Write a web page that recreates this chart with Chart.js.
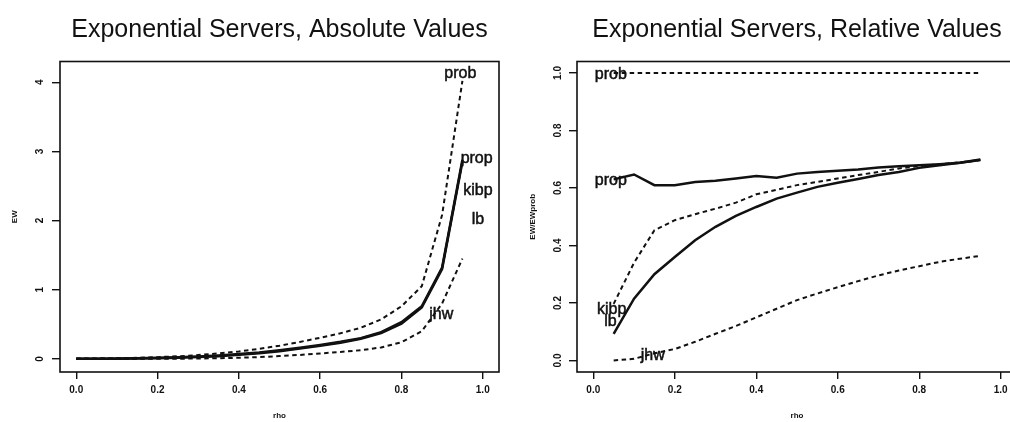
<!DOCTYPE html>
<html>
<head>
<meta charset="utf-8">
<script src="https://cdn.jsdelivr.net/npm/chart.js@4.4.1/dist/chart.umd.min.js"></script>
<style>
  html, body { margin: 0; padding: 0; background: #fff; overflow: hidden; }
  body { width: 1010px; height: 422px; position: relative; }
  canvas { position: absolute; top: 0; }
  #graficoAbsoluto { left: 0; }
  #graficoRelativo { left: 505px; }
</style>
</head>
<body>
<canvas id="graficoAbsoluto" width="505" height="422"></canvas>
<canvas id="graficoRelativo" width="530" height="422"></canvas>
<script>
// rho grid of the absolute plot (starts at 0)
const rhoAbs = [0, 0.05, 0.1, 0.15, 0.2, 0.25, 0.3, 0.35, 0.4, 0.45, 0.5, 0.55, 0.6, 0.65, 0.7, 0.75, 0.8, 0.85, 0.9, 0.95];
const probAbs = [0, 0.003, 0.008, 0.015, 0.025, 0.037, 0.055, 0.078, 0.108, 0.145, 0.19, 0.245, 0.305, 0.37, 0.45, 0.57, 0.76, 1.05, 2.08, 4.02];
const propAbs = [0, 0.002, 0.005, 0.009, 0.015, 0.023, 0.034, 0.049, 0.069, 0.092, 0.124, 0.16, 0.2, 0.246, 0.3, 0.385, 0.53, 0.76, 1.32, 2.88];
const kibpAbs = [0, 0.0006, 0.003, 0.007, 0.012, 0.019, 0.029, 0.043, 0.062, 0.086, 0.116, 0.152, 0.193, 0.239, 0.295, 0.381, 0.514, 0.75, 1.31, 2.86];
const lbAbs = [0, 0.0003, 0.0017, 0.0045, 0.009, 0.0155, 0.0256, 0.039, 0.058, 0.082, 0.111, 0.148, 0.188, 0.233, 0.29, 0.374, 0.51, 0.745, 1.3, 2.85];
const jhwAbs = [0, 0, 0.0001, 0.0004, 0.001, 0.0024, 0.005, 0.0094, 0.016, 0.026, 0.04, 0.057, 0.078, 0.1, 0.125, 0.165, 0.24, 0.4, 0.8, 1.45];

// rho grid of the relative plot (ratio undefined at 0)
const rhoRel = [0.05, 0.1, 0.15, 0.2, 0.25, 0.3, 0.35, 0.4, 0.45, 0.5, 0.55, 0.6, 0.65, 0.7, 0.75, 0.8, 0.85, 0.9, 0.95];
const probRel = [1, 1, 1, 1, 1, 1, 1, 1, 1, 1, 1, 1, 1, 1, 1, 1, 1, 1, 1];
const propRel = [0.63, 0.647, 0.61, 0.61, 0.621, 0.625, 0.633, 0.642, 0.636, 0.65, 0.656, 0.66, 0.664, 0.671, 0.676, 0.679, 0.683, 0.688, 0.699];
const kibpRel = [0.197, 0.34, 0.453, 0.488, 0.509, 0.528, 0.549, 0.578, 0.594, 0.61, 0.621, 0.633, 0.645, 0.656, 0.668, 0.676, 0.683, 0.689, 0.697];
const lbRel = [0.093, 0.215, 0.3, 0.36, 0.418, 0.465, 0.503, 0.534, 0.563, 0.584, 0.604, 0.618, 0.631, 0.645, 0.656, 0.67, 0.679, 0.688, 0.697];
const jhwRel = [0, 0.006, 0.025, 0.04, 0.065, 0.093, 0.12, 0.15, 0.18, 0.21, 0.233, 0.255, 0.276, 0.296, 0.313, 0.328, 0.343, 0.354, 0.364];

// axis ticks
const rhoTicks = [0, 0.2, 0.4, 0.6, 0.8, 1.0];
const ewTicks = [0, 1, 2, 3, 4];
const ratioTicks = [0, 0.2, 0.4, 0.6, 0.8, 1.0];

// curve names written next to the lines
const etiquetasAbs = [
  { text: "prob", x: 0.945, y: 4.12 },
  { text: "prop", x: 0.985, y: 2.9 },
  { text: "kibp", x: 0.988, y: 2.44 },
  { text: "lb", x: 0.988, y: 2.01 },
  { text: "jhw", x: 0.898, y: 0.64 }
];
const etiquetasRel = [
  { text: "prob", x: 0.043, y: 0.995 },
  { text: "prop", x: 0.043, y: 0.627 },
  { text: "kibp", x: 0.045, y: 0.177 },
  { text: "lb", x: 0.042, y: 0.136 },
  { text: "jhw", x: 0.146, y: 0.017 }
];

const INK = "#111";
Chart.defaults.font.family = "'Liberation Sans', Arial, Helvetica, sans-serif";
Chart.defaults.color = INK;

const zip = (xs, ys) => xs.map((x, i) => ({ x, y: ys[i] }));

const solida = (xs, ys) => ({
  data: zip(xs, ys), borderColor: INK, borderWidth: 2.5,
  pointRadius: 0, tension: 0, fill: false
});
const punteada = (xs, ys) => ({
  data: zip(xs, ys), borderColor: INK, borderWidth: 2,
  borderDash: [4.5, 3.5], pointRadius: 0, tension: 0, fill: false
});

// frame around the plot region plus the curve names
const marcoYEtiquetas = {
  id: "marcoYEtiquetas",
  afterDatasetsDraw(chart, args, opts) {
    const { ctx, chartArea: a, scales: { x, y } } = chart;
    ctx.save();
    ctx.strokeStyle = INK;
    ctx.lineWidth = 1.6;
    ctx.strokeRect(a.left, a.top, a.right - a.left, a.bottom - a.top);
    ctx.fillStyle = INK;
    ctx.lineWidth = 0.5;
    ctx.font = "16px 'Liberation Sans', Arial, sans-serif";
    ctx.textAlign = "center";
    ctx.textBaseline = "middle";
    (opts.labels || []).forEach(l => {
      const px = x.getPixelForValue(l.x), py = y.getPixelForValue(l.y);
      ctx.fillText(l.text, px, py);
      ctx.strokeText(l.text, px, py); // a little heavier, like the printed labels
    });
    ctx.restore();
  }
};

function ejeX(size) {
  return {
    type: "linear", min: -0.04, max: 1.04,
    afterBuildTicks: s => { s.ticks = rhoTicks.map(v => ({ value: v })); },
    afterFit: s => { s.height = size; },
    border: { display: false },
    grid: { drawOnChartArea: false, drawTicks: true, tickLength: 7, color: INK, lineWidth: 1.4 },
    ticks: { autoSkip: false, padding: 5, font: { size: 10, weight: "bold" }, callback: v => v.toFixed(1) },
    title: { display: true, text: "rho", font: { size: 8, weight: "bold" }, padding: { top: 0, bottom: 1 } }
  };
}

function ejeY(min, max, tickVals, fmt, width, titulo, titlePad, labelPad) {
  return {
    type: "linear", min, max,
    afterBuildTicks: s => { s.ticks = tickVals.map(v => ({ value: v })); },
    afterFit: s => { s.width = width; },
    border: { display: false },
    grid: { drawOnChartArea: false, drawTicks: true, tickLength: 8, color: INK, lineWidth: 1.4 },
    ticks: {
      autoSkip: false, minRotation: 90, maxRotation: 90, crossAlign: "center",
      padding: labelPad, font: { size: 10, weight: "bold" }, callback: fmt
    },
    title: { display: true, text: titulo, font: { size: 8, weight: "bold" }, padding: { top: titlePad, bottom: 0 } }
  };
}

function titulo(text) {
  return {
    display: true, text, fullSize: false, color: INK,
    font: { size: 25, weight: "normal" },
    padding: { top: 15, bottom: 16.5 }
  };
}

// left: absolute waiting times
new Chart(document.getElementById("graficoAbsoluto"), {
  type: "line",
  data: {
    datasets: [
      punteada(rhoAbs, probAbs),
      solida(rhoAbs, propAbs),
      punteada(rhoAbs, kibpAbs),
      solida(rhoAbs, lbAbs),
      punteada(rhoAbs, jhwAbs)
    ]
  },
  options: {
    responsive: false, animation: false,
    layout: { padding: { left: 0, right: 6, top: 0, bottom: 0 } },
    scales: {
      x: ejeX(50),
      y: ejeY(-0.19, 4.30, ewTicks, v => String(v), 60, "EW", 10, 8.7)
    },
    plugins: {
      legend: { display: false },
      tooltip: { enabled: false },
      title: titulo("Exponential Servers, Absolute Values"),
      marcoYEtiquetas: { labels: etiquetasAbs }
    }
  },
  plugins: [marcoYEtiquetas]
});

// right: everything divided by prob
new Chart(document.getElementById("graficoRelativo"), {
  type: "line",
  data: {
    datasets: [
      punteada(rhoRel, probRel),
      solida(rhoRel, propRel),
      punteada(rhoRel, kibpRel),
      solida(rhoRel, lbRel),
      punteada(rhoRel, jhwRel)
    ]
  },
  options: {
    responsive: false, animation: false,
    layout: { padding: { left: 0, right: 18, top: 0, bottom: 0 } },
    scales: {
      x: ejeX(50),
      y: ejeY(-0.04, 1.04, ratioTicks, v => v.toFixed(1), 72, "EW/EWprob", 23, 3.5)
    },
    plugins: {
      legend: { display: false },
      tooltip: { enabled: false },
      title: titulo("Exponential Servers, Relative Values"),
      marcoYEtiquetas: { labels: etiquetasRel }
    }
  },
  plugins: [marcoYEtiquetas]
});
</script>
</body>
</html>
